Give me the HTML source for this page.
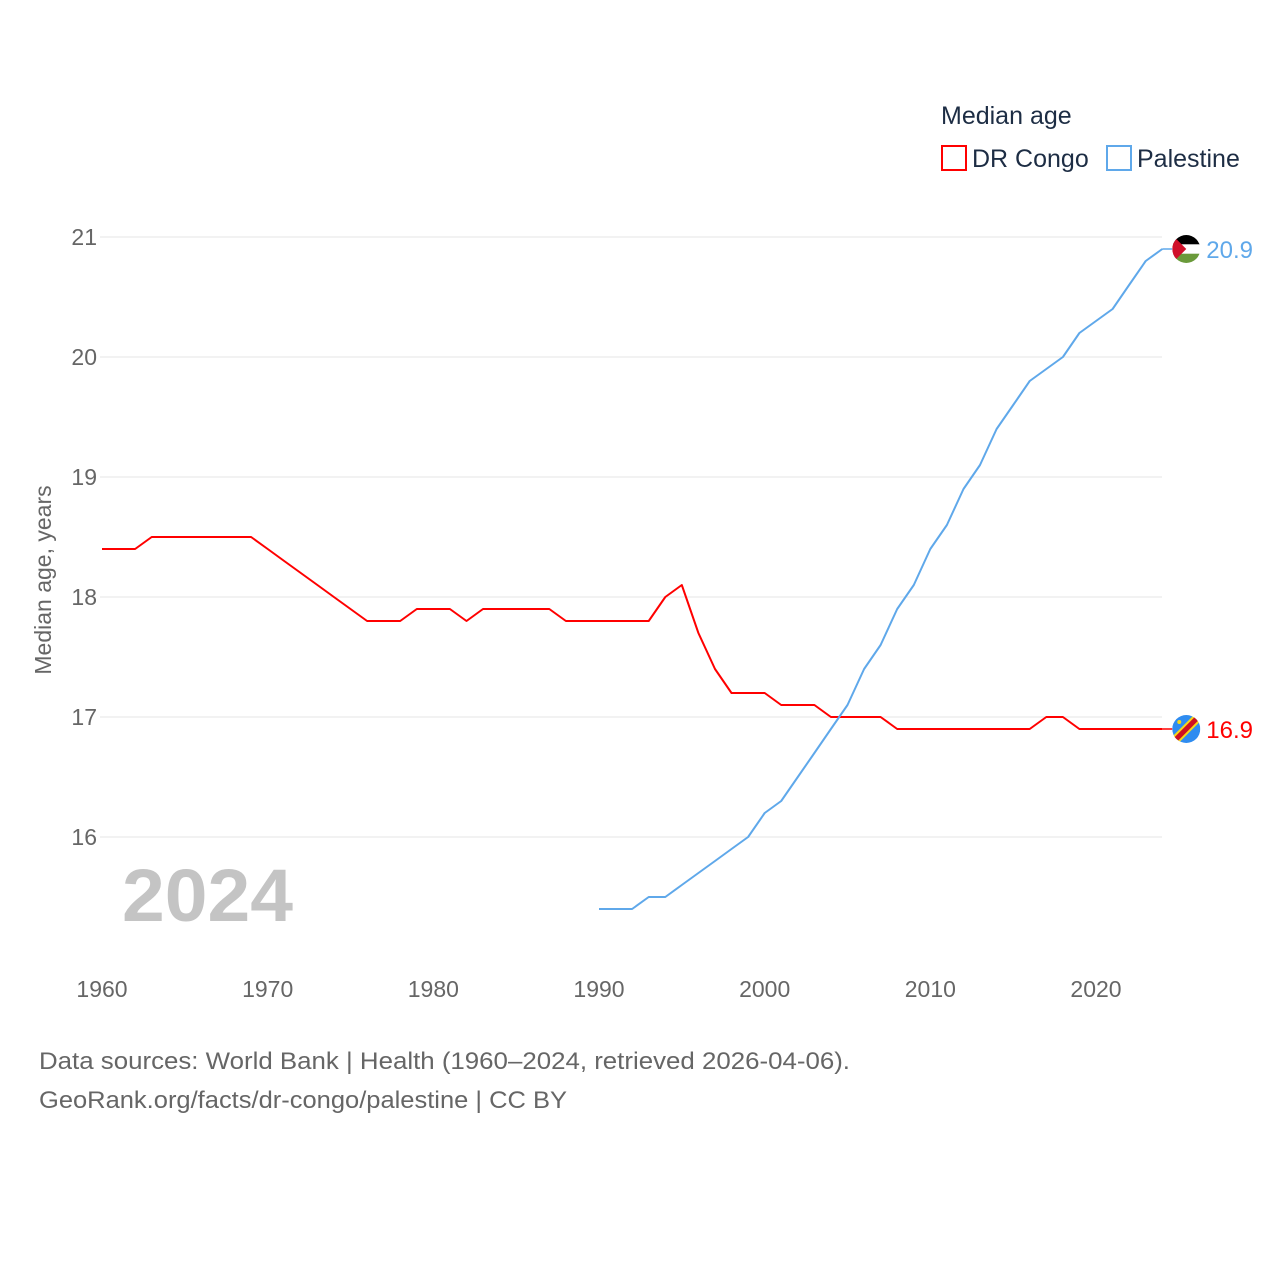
<!DOCTYPE html>
<html><head><meta charset="utf-8"><style>
body{margin:0;background:#fff;font-family:"Liberation Sans",sans-serif;}
svg text{font-family:"Liberation Sans",sans-serif;}
</style></head><body>
<svg id="chart" width="1280" height="1280" viewBox="0 0 1280 1280" xmlns="http://www.w3.org/2000/svg">
<rect width="1280" height="1280" fill="#fff"/>
<g id="grid"></g>
<g id="yticks"></g>
<g id="xticks"></g>
<text transform="translate(51,580) rotate(-90)" text-anchor="middle" font-size="23" fill="#666">Median age, years</text>
<text x="122" y="921" font-size="74" font-weight="bold" fill="#c4c4c4" textLength="171" lengthAdjust="spacingAndGlyphs">2024</text>
<g id="series"></g>
<g>
<text x="941" y="124" font-size="25" fill="#1d2d44">Median age</text>
<rect x="942" y="146" width="24" height="24" fill="none" stroke="#ff0000" stroke-width="2"/>
<text x="972" y="167" font-size="25" fill="#1d2d44">DR Congo</text>
<rect x="1107" y="146" width="24" height="24" fill="none" stroke="#5fa8ea" stroke-width="2"/>
<text x="1137" y="167" font-size="25" fill="#1d2d44">Palestine</text>
</g>
<text x="39" y="1069" font-size="24" fill="#666" textLength="811" lengthAdjust="spacingAndGlyphs">Data sources: World Bank | Health (1960–2024, retrieved 2026-04-06).</text>
<text x="39" y="1108" font-size="24" fill="#666" textLength="528" lengthAdjust="spacingAndGlyphs">GeoRank.org/facts/dr-congo/palestine | CC BY</text>
</svg>
<script>
const yTicks=[16,17,18,19,20,21];
const xTicks=[1960,1970,1980,1990,2000,2010,2020];
const congoYears=[1960,1961,1962,1963,1964,1965,1966,1967,1968,1969,1970,1971,1972,1973,1974,1975,1976,1977,1978,1979,1980,1981,1982,1983,1984,1985,1986,1987,1988,1989,1990,1991,1992,1993,1994,1995,1996,1997,1998,1999,2000,2001,2002,2003,2004,2005,2006,2007,2008,2009,2010,2011,2012,2013,2014,2015,2016,2017,2018,2019,2020,2021,2022,2023,2024];
const congoValues=[18.4,18.4,18.4,18.5,18.5,18.5,18.5,18.5,18.5,18.5,18.4,18.3,18.2,18.1,18.0,17.9,17.8,17.8,17.8,17.9,17.9,17.9,17.8,17.9,17.9,17.9,17.9,17.9,17.8,17.8,17.8,17.8,17.8,17.8,18.0,18.1,17.7,17.4,17.2,17.2,17.2,17.1,17.1,17.1,17.0,17.0,17.0,17.0,16.9,16.9,16.9,16.9,16.9,16.9,16.9,16.9,16.9,17.0,17.0,16.9,16.9,16.9,16.9,16.9,16.9];
const palYears=[1990,1991,1992,1993,1994,1995,1996,1997,1998,1999,2000,2001,2002,2003,2004,2005,2006,2007,2008,2009,2010,2011,2012,2013,2014,2015,2016,2017,2018,2019,2020,2021,2022,2023,2024];
const palValues=[15.4,15.4,15.4,15.5,15.5,15.6,15.7,15.8,15.9,16.0,16.2,16.3,16.5,16.7,16.9,17.1,17.4,17.6,17.9,18.1,18.4,18.6,18.9,19.1,19.4,19.6,19.8,19.9,20.0,20.2,20.3,20.4,20.6,20.8,20.9];

const NS="http://www.w3.org/2000/svg";
const X=y=>102+(y-1960)*(994/60);
const Y=v=>837-(v-16)*120;
function mk(tag,attrs,parent,txt){const e=document.createElementNS(NS,tag);for(const k in attrs)e.setAttribute(k,attrs[k]);if(txt!==undefined)e.textContent=txt;parent.appendChild(e);return e;}
const grid=document.getElementById('grid'),yt=document.getElementById('yticks'),xt=document.getElementById('xticks'),ser=document.getElementById('series');
yTicks.forEach(v=>{
 const l=mk('line',{x1:100,x2:1162,y1:Y(v),y2:Y(v),stroke:'#e6e6e6','stroke-width':1},grid);
 
 
 const t=mk('text',{x:97,y:Y(v)+8,'text-anchor':'end','font-size':23,fill:'#666'},yt,String(v));
 
 
});
xTicks.forEach(v=>{
 const t=mk('text',{x:X(v),y:997,'text-anchor':'middle','font-size':23,fill:'#666'},xt,String(v));
 
 
});
function line(years,vals,color,name){
 const d=years.map((y,i)=>(i?'L':'M')+X(y).toFixed(1)+','+Y(vals[i]).toFixed(1)).join(' ');
 const p=mk('path',{d:d,fill:'none',stroke:color,'stroke-width':2,'stroke-linejoin':'round'},ser);
 
 
 const last=vals[vals.length-1],lx=X(years[years.length-1]),ly=Y(last);
 mk('line',{x1:lx,x2:lx+10,y1:ly,y2:ly,stroke:color,'stroke-width':1.5},ser);
 const t=mk('text',{x:lx+44,y:ly+9,'font-size':24,fill:color},ser,last.toFixed(1));
 
 
 return {cx:lx+24,cy:ly};
}
const c=line(congoYears,congoValues,'#ff0000','dr-congo');
const p=line(palYears,palValues,'#5fa8ea','palestine');
const fp=mk('g',{},ser);


const cp1=mk('clipPath',{id:'cp1'},fp);mk('circle',{cx:p.cx,cy:p.cy,r:14},cp1);
const g1=mk('g',{'clip-path':'url(#cp1)'},fp);
mk('rect',{x:p.cx-14,y:p.cy-14,width:28,height:10,fill:'#000'},g1);
mk('rect',{x:p.cx-14,y:p.cy-4.7,width:28,height:9.4,fill:'#fff'},g1);
mk('rect',{x:p.cx-14,y:p.cy+4.7,width:28,height:10,fill:'#6a9a3a'},g1);
mk('polygon',{points:`${p.cx-14},${p.cy-14} ${p.cx},${p.cy} ${p.cx-14},${p.cy+14}`,fill:'#d0102a'},g1);
const fc=mk('g',{},ser);


const cp2=mk('clipPath',{id:'cp2'},fc);mk('circle',{cx:c.cx,cy:c.cy,r:14},cp2);
const g2=mk('g',{'clip-path':'url(#cp2)'},fc);
mk('rect',{x:c.cx-14,y:c.cy-14,width:28,height:28,fill:'#2f8cf0'},g2);
mk('line',{x1:c.cx-16,y1:c.cy+16,x2:c.cx+16,y2:c.cy-16,stroke:'#f7d618','stroke-width':9},g2);
mk('line',{x1:c.cx-16,y1:c.cy+16,x2:c.cx+16,y2:c.cy-16,stroke:'#ce1021','stroke-width':5},g2);
mk('circle',{cx:c.cx-7,cy:c.cy-7,r:2,fill:'#f7d618'},g2);
</script>
</body></html>
